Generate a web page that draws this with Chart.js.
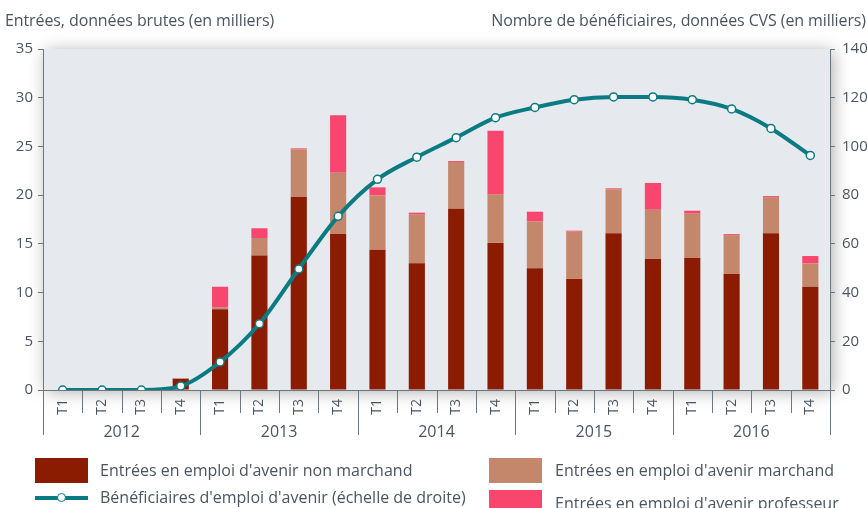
<!DOCTYPE html>
<html>
<head>
<meta charset="utf-8">
<script src="https://cdn.jsdelivr.net/npm/chart.js@4.4.1/dist/chart.umd.min.js"></script>
<style>
    html, body { margin: 0; padding: 0; background: #fff; }
    #wrap { position: relative; width: 867px; height: 508px; overflow: hidden; font-family: "Open Sans", sans-serif; color: #4b5560; }
    #chart { position: absolute; left: 0; top: 0; }
    .title { position: absolute; top: 10px; font-size: 16px; white-space: nowrap; line-height: 20px; letter-spacing: -0.1px; }
    .leg { position: absolute; font-size: 16px; white-space: nowrap; line-height: 20px; }
    .box { position: absolute; width: 53px; height: 25px; }
</style>
</head>
<body>
<div id="wrap">
    <canvas id="chart" width="867" height="508"></canvas>
    <div class="title" style="left:5px">Entrées, données brutes (en milliers)</div>
    <div class="title" style="right:1px">Nombre de bénéficiaires, données CVS (en milliers)</div>

    <div class="box" style="left:35px;top:458px;background:#8b1c02"></div>
    <div class="leg" style="left:100px;top:460px">Entrées en emploi d'avenir non marchand</div>
    <div style="position:absolute;left:35px;top:496px;width:53px;height:4px;background:#0b7b83"></div>
    <div style="position:absolute;left:57px;top:493px;width:7px;height:7px;border:1.5px solid #0b7b83;border-radius:50%;background:#fff"></div>
    <div class="leg" style="left:100px;top:487px">Bénéficiaires d'emploi d'avenir (échelle de droite)</div>

    <div class="box" style="left:489px;top:458px;background:#c5876b"></div>
    <div class="leg" style="left:555px;top:460px">Entrées en emploi d'avenir marchand</div>
    <div class="box" style="left:489px;top:490px;background:#f9466e"></div>
    <div class="leg" style="left:555px;top:493px">Entrées en emploi d'avenir professeur</div>
</div>
<script>
    const years = ['2012', '2013', '2014', '2015', '2016'];
    const quarters = ['T1', 'T2', 'T3', 'T4'];

    // entrées (en milliers), axe de gauche
    const nonMarchand = [0, 0, 0, 1.15, 8.3, 13.8, 19.8, 16.0, 14.4, 13.0, 18.6, 15.1, 12.5, 11.4, 16.1, 13.45, 13.55, 11.9, 16.1, 10.6];
    const marchand = [0, 0, 0, 0.05, 0.2, 1.8, 4.9, 6.3, 5.6, 5.0, 4.8, 5.0, 4.8, 4.85, 4.5, 5.05, 4.55, 4.0, 3.7, 2.4];
    const professeur = [0, 0, 0, 0, 2.1, 1.0, 0.1, 5.9, 0.8, 0.2, 0.1, 6.5, 1.0, 0.1, 0.1, 2.75, 0.3, 0.1, 0.1, 0.75];
    // bénéficiaires (en milliers), axe de droite
    const beneficiaires = [0, 0, 0, 1.6, 11.5, 27.2, 49.7, 71.3, 86.5, 95.6, 103.6, 111.8, 116.0, 119.2, 120.3, 120.3, 119.2, 115.4, 107.4, 96.3];

    const leftTicks = [0, 5, 10, 15, 20, 25, 30, 35];
    const rightTicks = [0, 20, 40, 60, 80, 100, 120, 140];

    const labels = [];
    years.forEach(() => quarters.forEach(q => labels.push(q)));

    const textColor = '#4b5560';
    const axisColor = '#6d7780';

    Chart.defaults.font.family = "'Open Sans', sans-serif";
    Chart.defaults.color = textColor;

    // fond gris de la zone de tracé + séparateurs et années sous l'axe
    const frame = {
        id: 'frame',
        beforeDraw(chart) {
            const { ctx, chartArea: a } = chart;
            ctx.save();
            ctx.shadowColor = 'rgba(0,0,0,0.32)';
            ctx.shadowBlur = 16;
            ctx.shadowOffsetX = 3;
            ctx.shadowOffsetY = 2;
            ctx.fillStyle = '#e6e9ee';
            ctx.fillRect(a.left, a.top, a.right - a.left, a.bottom - a.top);
            ctx.restore();
        },
        afterDraw(chart) {
            const { ctx, chartArea: a } = chart;
            const x = chart.scales.x;
            ctx.save();
            ctx.strokeStyle = axisColor;
            ctx.lineWidth = 1;
            for (let i = 0; i <= labels.length; i++) {
                const px = Math.round(x.getPixelForValue(i - 0.5)) + 0.5;
                const len = i % quarters.length === 0 ? 45 : 23;
                ctx.beginPath();
                ctx.moveTo(px, a.bottom);
                ctx.lineTo(px, a.bottom + len);
                ctx.stroke();
            }
            ctx.fillStyle = textColor;
            ctx.font = "16px 'Open Sans', sans-serif";
            ctx.textAlign = 'center';
            ctx.textBaseline = 'middle';
            years.forEach((yr, k) => {
                const px = x.getPixelForValue(k * quarters.length + 1.5);
                ctx.fillText(yr, px, a.bottom + 42);
            });
            ctx.restore();
        }
    };

    new Chart(document.getElementById('chart'), {
        type: 'bar',
        data: {
            labels: labels,
            datasets: [
                {
                    type: 'line',
                    label: "Bénéficiaires d'emploi d'avenir (échelle de droite)",
                    data: beneficiaires,
                    yAxisID: 'y1',
                    borderColor: '#0b7b83',
                    borderWidth: 4,
                    cubicInterpolationMode: 'monotone',
                    pointRadius: 4,
                    pointBackgroundColor: '#fff',
                    pointBorderColor: '#0b7b83',
                    pointBorderWidth: 1.5,
                    order: 0
                },
                {
                    label: "Entrées en emploi d'avenir non marchand",
                    data: nonMarchand,
                    backgroundColor: '#8b1c02',
                    yAxisID: 'y',
                    order: 1
                },
                {
                    label: "Entrées en emploi d'avenir marchand",
                    data: marchand,
                    backgroundColor: '#c5876b',
                    yAxisID: 'y',
                    order: 1
                },
                {
                    label: "Entrées en emploi d'avenir professeur",
                    data: professeur,
                    backgroundColor: '#f9466e',
                    yAxisID: 'y',
                    order: 1
                }
            ]
        },
        options: {
            responsive: false,
            animation: false,
            layout: { padding: { top: 49, left: 0, right: 0, bottom: 0 } },
            datasets: { bar: { categoryPercentage: 1, barPercentage: 0.41 } },
            plugins: { legend: { display: false }, tooltip: { enabled: false } },
            scales: {
                x: {
                    stacked: true,
                    grid: { drawOnChartArea: false, drawTicks: false, color: 'transparent' },
                    border: { display: true, color: axisColor, width: 1 },
                    ticks: { autoSkip: false, minRotation: 90, maxRotation: 90, padding: 9, font: { size: 14 }, color: textColor },
                    afterFit(s) { s.height = 118; }
                },
                y: {
                    position: 'left',
                    stacked: true,
                    min: 0,
                    max: 35,
                    afterBuildTicks(s) { s.ticks = leftTicks.map(v => ({ value: v })); },
                    grid: { drawOnChartArea: false, tickLength: 5, color: axisColor },
                    border: { color: axisColor },
                    ticks: { padding: 5, font: { size: 15 }, color: textColor },
                    afterFit(s) { s.width = 43; }
                },
                y1: {
                    position: 'right',
                    min: 0,
                    max: 140,
                    afterBuildTicks(s) { s.ticks = rightTicks.map(v => ({ value: v })); },
                    grid: { drawOnChartArea: false, tickLength: 5, color: axisColor },
                    border: { color: axisColor },
                    ticks: { padding: 7, font: { size: 15 }, color: textColor },
                    afterFit(s) { s.width = 37; }
                }
            }
        },
        plugins: [frame]
    });
</script>
</body>
</html>
